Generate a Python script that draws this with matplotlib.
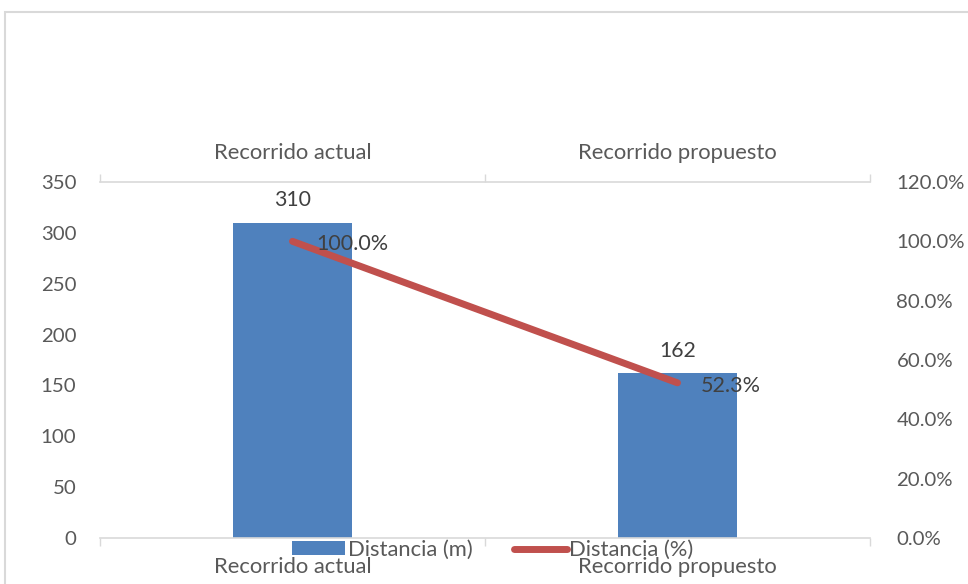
import numpy as np
import matplotlib as mpl
import matplotlib.pyplot as plt

categorias = ["Recorrido actual", "Recorrido propuesto"]
distancia_m = [310, 162]
distancia_pct = [1.0, 0.523]

azul = '#4F81BD'
rojo = '#C0504D'
gris_txt = '#595959'
gris_lin = '#D9D9D9'

plt.rcParams['font.family'] = ['Lato', 'DejaVu Sans']
fs = 15.8      # texto
fs_num = 14.7  # ticks y etiquetas numéricas

W, H = 968, 584
fig = plt.figure(figsize=(W/100, H/100), dpi=100)
ax = fig.add_axes([100/W, 1-538/H, 770/W, 356/H])

x = np.arange(len(categorias))
ax.bar(x, distancia_m, width=0.31, color=azul, zorder=2, label='Distancia (m)')
ax.set_xlim(-0.5, len(categorias)-0.5)
ax.set_ylim(0, 350)
ax.set_yticks(np.arange(0, 351, 50))

for xi, v in zip(x, distancia_m):
    ax.annotate(str(v), (xi, v), xytext=(0, 9), textcoords='offset points',
                ha='center', va='bottom', fontsize=15.3, color='#404040')

# category ticks between groups, labels centered
ax.set_xticks(np.arange(-0.5, len(categorias)), minor=False)
ax.set_xticklabels([])
ax.set_xticks(x, minor=True)
ax.set_xticklabels(categorias, minor=True)
ax.tick_params(axis='x', which='major', length=6, color=gris_lin, top=True, width=1)
ax.tick_params(axis='x', which='minor', length=0, labelsize=fs, labelcolor=gris_txt,
               pad=14, top=True, labeltop=True)
ax.tick_params(axis='y', length=0, labelsize=fs_num, labelcolor=gris_txt, pad=17)
for s in ['left', 'right']:
    ax.spines[s].set_visible(False)
for s in ['top', 'bottom']:
    ax.spines[s].set_color(gris_lin)
    ax.spines[s].set_linewidth(1.2)

ax2 = ax.twinx()
ax2.plot(x, distancia_pct, color=rojo, lw=5, solid_capstyle='round', zorder=3, label='Distancia (%)')
ax2.set_ylim(0, 1.2)
ax2.set_yticks(np.arange(0, 1.21, 0.2))
ax2.yaxis.set_major_formatter(mpl.ticker.FuncFormatter(lambda v, p: f"{v*100:.1f}%"))
ax2.tick_params(axis='y', length=0, labelsize=fs_num, labelcolor=gris_txt, pad=19)
for s in ax2.spines.values():
    s.set_visible(False)
for xi, v in zip(x, distancia_pct):
    ax2.annotate(f"{v*100:.1f}%", (xi, v), xytext=(17, -2), textcoords='offset points',
                 ha='left', va='center', fontsize=15.5, color='#404040')

h1, l1 = ax.get_legend_handles_labels()
h2, l2 = ax2.get_legend_handles_labels()
fig.legend(h1+h2, l1+l2, loc='center', bbox_to_anchor=(493/W, 1-550/H), ncol=2,
           frameon=False, fontsize=fs, labelcolor=gris_txt, handlelength=2.4,
           handletextpad=0.12, columnspacing=1.9, handleheight=0.6)

borde = mpl.patches.Rectangle((5/W, -0.1), 1.2, 1.1-12/H, transform=fig.transFigure,
                              fill=False, edgecolor=gris_lin, lw=1.5)
fig.add_artist(borde)

fig.savefig('out.png', dpi=100)
